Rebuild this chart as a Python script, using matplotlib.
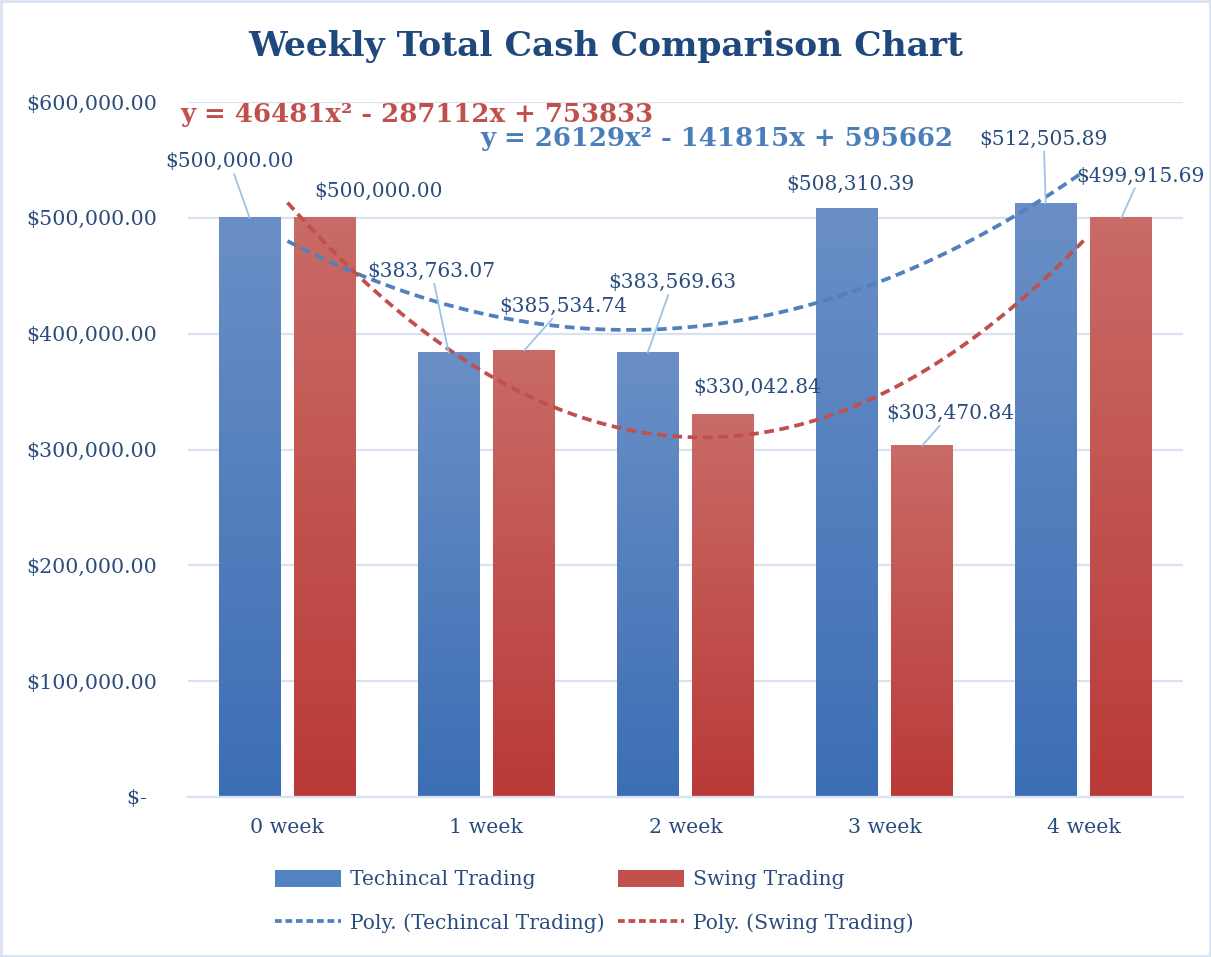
import numpy as np
import matplotlib
matplotlib.use("Agg")
import matplotlib.pyplot as plt
from matplotlib.patches import Rectangle, Patch
from matplotlib.lines import Line2D
from matplotlib.ticker import FuncFormatter

weeks = ["0 week", "1 week", "2 week", "3 week", "4 week"]
technical = [500000.00, 383763.07, 383569.63, 508310.39, 512505.89]
swing = [500000.00, 385534.74, 330042.84, 303470.84, 499915.69]
tech_eq = "y = 26129x\u00b2 - 141815x + 595662"
swing_eq = "y = 46481x\u00b2 - 287112x + 753833"

# label offsets from the bar top, in pixels, and whether a leader line is drawn
tech_offsets = [(-20, 56), (-17, 81), (25, 70), (4, 24), (-2, 64)]
tech_leader = [True, True, True, False, True]
swing_offsets = [(53, 26), (39, 44), (34, 27), (28, 32), (19, 42)]
swing_leader = [False, True, False, True, True]

plt.rcParams['font.family'] = ['DejaVu Serif']
text_col = '#2B4C7E'
blue = '#4F81BD'
red = '#C0504D'
grid_col = '#D9E2F1'

fig = plt.figure(figsize=(12.11, 9.57), dpi=100)
ax = fig.add_axes([0.1552, 0.1672, 0.8217, 0.7262])

fig.patches.append(Rectangle((0.001, 0.001), 0.998, 0.998, transform=fig.transFigure,
                             fill=False, edgecolor=grid_col, lw=2))

x = np.arange(len(weeks))
width = 0.31
off = 0.19


def gradient_bars(xpos, vals, top, bottom):
    cmap = matplotlib.colors.LinearSegmentedColormap.from_list('g', [bottom, top])
    grad = np.linspace(0, 1, 256).reshape(-1, 1)
    for xi, v in zip(xpos, vals):
        ax.imshow(grad, cmap=cmap, origin='lower', aspect='auto', interpolation='bicubic',
                  extent=(xi - width / 2, xi + width / 2, 0, v), zorder=2)


gradient_bars(x - off, technical, '#6A8FC6', '#3C6EB4')
gradient_bars(x + off, swing, '#C96B66', '#B93A38')

# polynomial trendlines (Excel x = 1..5)
xs = np.linspace(1, 5, 200)
for vals, col in [(technical, blue), (swing, red)]:
    coef = np.polyfit(np.arange(1, 6), vals, 2)
    ax.plot(xs - 1, np.polyval(coef, xs), color=col, lw=2.7, dashes=(2.6, 1.5), zorder=4)


def add_labels(xpos, vals, offsets, leaders):
    for xi, v, (dx, dy), ld in zip(xpos, vals, offsets, leaders):
        props = dict(arrowstyle='-', color='#9DC3E6', lw=1.3, shrinkA=0, shrinkB=0) if ld else None
        ax.annotate(f"${v:,.2f}", xy=(xi, v), xytext=(dx, dy), textcoords='offset pixels',
                    ha='center', va='center', fontsize=14.5, color=text_col,
                    arrowprops=props, zorder=5)


add_labels(x - off, technical, tech_offsets, tech_leader)
add_labels(x + off, swing, swing_offsets, swing_leader)

ax.set_xlim(-0.5, 4.5)
ax.set_ylim(0, 600000)
ax.set_yticks(np.arange(0, 600001, 100000))
ax.yaxis.set_major_formatter(FuncFormatter(lambda v, p: "$-\u2002" if v == 0 else f"${v:,.2f}"))
ax.set_xticks(x)
ax.set_xticklabels(weeks)
ax.tick_params(axis='both', length=0, labelsize=14.8, labelcolor=text_col)
ax.tick_params(axis='y', pad=22)
ax.tick_params(axis='x', pad=15)
for lab in ax.get_yticklabels():
    lab.set_horizontalalignment('right')
ax.grid(axis='y', color=grid_col, lw=1.6, zorder=0)
ax.set_axisbelow(True)
for s in ['top', 'right', 'left']:
    ax.spines[s].set_visible(False)
ax.spines['bottom'].set_color(grid_col)
ax.spines['bottom'].set_linewidth(1.6)

fig.text(0.5, 0.951, "Weekly Total Cash Comparison Chart", ha='center', va='center',
         fontsize=24.8, fontweight='bold', color='#1F497D')
fig.text(0.1486, 0.880, swing_eq, ha='left', va='center', fontsize=18.7,
         fontweight='bold', color=red)
fig.text(0.3964, 0.855, tech_eq, ha='left', va='center', fontsize=18.7,
         fontweight='bold', color='#4A7EBB')

handles = [Patch(facecolor='#5282C0', edgecolor='none'),
           Line2D([0], [0], color=blue, lw=2.7, dashes=(1.8, 1.0)),
           Patch(facecolor='#C2504C', edgecolor='none'),
           Line2D([0], [0], color=red, lw=2.7, dashes=(1.8, 1.0))]
labels = ["Techincal Trading", "Poly. (Techincal Trading)",
          "Swing Trading", "Poly. (Swing Trading)"]
leg = fig.legend(handles, labels, ncol=2, loc='center left', bbox_to_anchor=(0.212, 0.058),
                 frameon=False, fontsize=14.6, labelcolor=text_col, handlelength=3.25,
                 handleheight=0.9, columnspacing=0.65, labelspacing=1.2, handletextpad=0.45)

fig.savefig("out.png", dpi=100)
